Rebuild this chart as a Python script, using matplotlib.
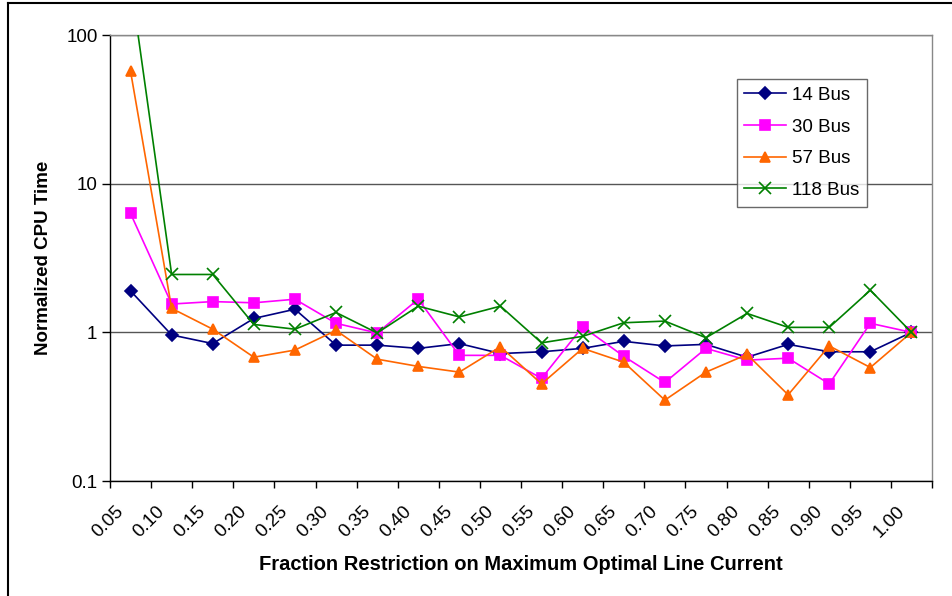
import matplotlib
matplotlib.use("Agg")
import matplotlib.pyplot as plt
from matplotlib.lines import Line2D
import numpy as np

plt.rcParams["font.family"] = ["Liberation Sans", "DejaVu Sans"]

# Restriction levels (categories) and normalized CPU times per test system
fractions = ["0.05", "0.10", "0.15", "0.20", "0.25", "0.30", "0.35", "0.40", "0.45", "0.50",
             "0.55", "0.60", "0.65", "0.70", "0.75", "0.80", "0.85", "0.90", "0.95", "1.00"]

bus14 = [1.90, 0.96, 0.84, 1.24, 1.43, 0.82, 0.82, 0.78, 0.84, 0.72,
         0.74, 0.78, 0.87, 0.81, 0.83, 0.68, 0.83, 0.74, 0.74, 1.00]
bus30 = [6.3, 1.55, 1.61, 1.58, 1.67, 1.15, 0.99, 1.67, 0.70, 0.70,
         0.49, 1.09, 0.69, 0.46, 0.78, 0.65, 0.67, 0.45, 1.15, 1.00]
bus57 = [57.0, 1.45, 1.05, 0.68, 0.76, 1.03, 0.66, 0.59, 0.54, 0.80,
         0.45, 0.78, 0.63, 0.35, 0.54, 0.71, 0.38, 0.81, 0.58, 1.00]
bus118 = [230.0, 2.45, 2.45, 1.13, 1.05, 1.36, 0.99, 1.50, 1.27, 1.50,
          0.85, 0.94, 1.16, 1.19, 0.92, 1.34, 1.08, 1.08, 1.92, 1.00]

series = [
    ("14 Bus", bus14, "#000080", "D", 6.5),
    ("30 Bus", bus30, "#FF00FF", "s", 6.5),
    ("57 Bus", bus57, "#FF6600", "^", 7.5),
    ("118 Bus", bus118, "#008000", "x", 8),
]

fig = plt.figure(figsize=(9.52, 5.96), dpi=100)
ax = fig.add_axes([110 / 952, 115 / 596, 822 / 952, 446 / 596])

x = np.arange(len(fractions)) + 0.5
for label, vals, color, marker, ms in series:
    ax.plot(x, vals, color=color, lw=1.2, marker=marker, ms=ms,
            markerfacecolor=color, markeredgecolor=color, mew=1.2,
            label=label, clip_on=True, zorder=3)

ax.set_yscale("log")
ax.set_ylim(0.1, 100)
ax.set_xlim(0, len(fractions))

ax.set_yticks([0.1, 1, 10, 100])
ax.set_yticklabels(["0.1", "1", "10", "100"])
ax.yaxis.set_minor_locator(matplotlib.ticker.NullLocator())
ax.tick_params(axis="y", which="major", direction="out", length=6, width=1,
               labelsize=13.5, pad=3)

# Category boundaries carry the tick marks, labels sit at category centres
ax.set_xticks(np.arange(len(fractions) + 1))
ax.set_xticklabels([])
ax.tick_params(axis="x", which="major", direction="out", length=5, width=1)
for xi, lab in zip(x, fractions):
    ax.text(xi - 0.38, -0.05, lab, transform=ax.get_xaxis_transform(),
            rotation=45, rotation_mode="anchor", ha="right", va="top",
            fontsize=13.5)

ax.grid(axis="y", which="major", color="#555555", lw=1.0, zorder=1)

for side in ("left", "bottom"):
    ax.spines[side].set_color("black")
    ax.spines[side].set_linewidth(1.0)
for side in ("right", "top"):
    ax.spines[side].set_color("#888888")
    ax.spines[side].set_linewidth(1.0)

ax.set_ylabel("Normalized CPU Time", fontsize=13.5, fontweight="bold", labelpad=10)
ax.set_xlabel("Fraction Restriction on Maximum Optimal Line Current",
              fontsize=14.5, fontweight="bold", labelpad=45)

leg = ax.legend(loc="upper right", bbox_to_anchor=(0.9206, 0.901), borderaxespad=0,
                fontsize=13.5, frameon=True, fancybox=False, edgecolor="#444444",
                handlelength=2.24, handletextpad=0.3, labelspacing=0.78,
                borderpad=0.4)
leg.get_frame().set_linewidth(1.0)

# Outer chart border (left and top edges)
fig.add_artist(Line2D([8 / 952, 8 / 952], [0, 1 - 3 / 596], color="black", lw=1.5,
                      transform=fig.transFigure))
fig.add_artist(Line2D([8 / 952, 1], [1 - 3 / 596, 1 - 3 / 596], color="black", lw=1.5,
                      transform=fig.transFigure))

fig.savefig("out.png", dpi=100)
